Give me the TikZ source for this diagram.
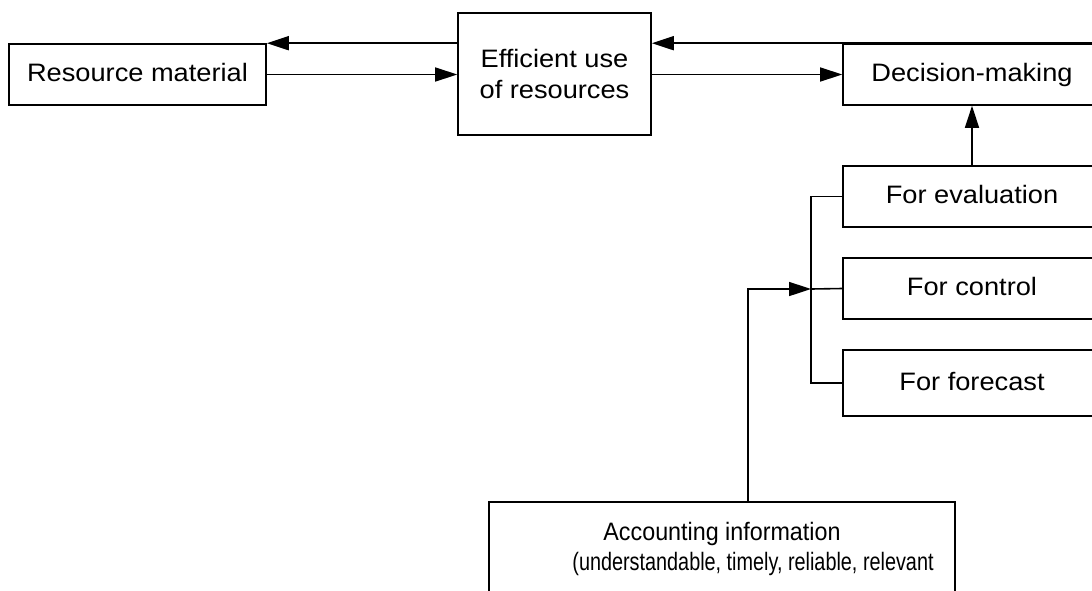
\documentclass[tikz,border=0pt]{standalone}
\usepackage{fontspec}
\setmainfont[FakeStretch=1.08]{Liberation Sans}
\newfontfamily\narrowa[FakeStretch=0.925]{Liberation Sans}
\newfontfamily\narrowb[FakeStretch=0.787]{Liberation Sans}
\usepackage{tikz}
\usetikzlibrary{arrows.meta}
\usetikzlibrary{positioning}
\tikzset{
    box nodes/.style={
        draw,
        line width=1.6pt,
        align=center,
        inner sep=0pt,
        font=\fontsize{25.2pt}{31pt}\selectfont
    },
    one line/.style={
        box nodes,
        text height=19pt,
        text depth=4.6pt
    },
    flow/.style={
        line width=1.6pt,
        -{Triangle[length=22pt,width=14pt]}
    },
    bus/.style={
        line width=1.6pt
    }
}
\begin{document}
\begin{tikzpicture}[x=1pt,y=-1pt]
          \useasboundingbox (0,0) rectangle (1092,590);
          \clip (0,0) rectangle (1092,590);
          \node[one line,minimum width=257pt,minimum height=61pt] (res) at (137.5,74.5) {Resource material};
          \node[box nodes,minimum width=193pt,minimum height=122pt] (eff) at (554.5,74) {Efficient use\\of resources};
          \node[one line,minimum width=258pt,minimum height=61pt] (dec) at (972,74.5) {Decision-making};
          \node[one line,minimum width=258pt,minimum height=61pt] (eva) at (972,196.5) {For evaluation};
          \node[one line,minimum width=258pt,minimum height=61pt] (con) at (972,288.5) {For control};
          \node[one line,minimum width=258pt,minimum height=66pt] (fore) at (972,383) {For forecast};
          \node[box nodes,minimum width=466pt,minimum height=94.4pt,font=\fontsize{25.2pt}{30pt}\selectfont] (acc) at (722,549.2)
            {{\narrowa Accounting information}\\{\narrowb\hspace*{62pt}(understandable, timely, reliable, relevant}};
          \coordinate (join) at (811,289);
          % top flows
          \draw[flow] (res.east) -- (eff.west |- res.east);
          \draw[flow] (eff.west |- res.north) -- (res.north east);
          \draw[flow] (eff.east |- dec.west) -- (dec.west);
          \draw[flow] (dec.north east) -- (eff.east |- dec.north);
          \draw[flow] (eva.north) -- (dec.south);
          % purposes
          \draw[bus] (eva.west) -| (join |- fore.west) -- (fore.west);
          \draw[bus] (join) -- (con.west);
          \draw[flow] (acc.north -| 747.7,0) |- (join);
        \end{tikzpicture}
\end{document}
